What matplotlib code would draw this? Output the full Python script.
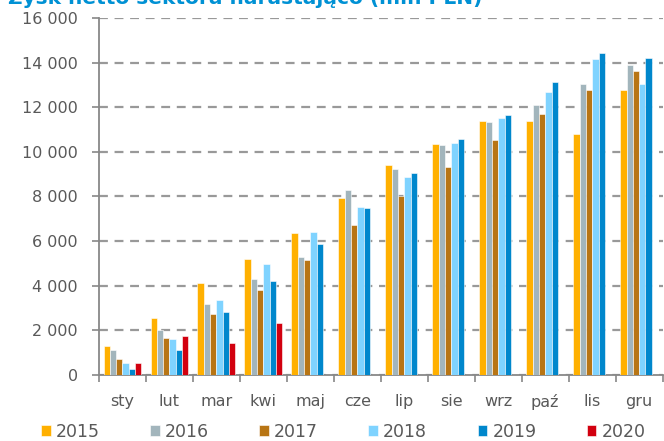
import numpy as np
import matplotlib
matplotlib.use("Agg")
import matplotlib.pyplot as plt
from matplotlib.ticker import FuncFormatter, MultipleLocator

plt.rcParams["font.family"] = "DejaVu Sans"

months = ["sty", "lut", "mar", "kwi", "maj", "cze", "lip", "sie", "wrz", "paź", "lis", "gru"]
years = ["2015", "2016", "2017", "2018", "2019", "2020"]

y2015 = [1300, 2550, 4130, 5190, 6360, 7920, 9390, 10360, 11370, 11390, 10800, 12780]
y2016 = [1130, 2010, 3170, 4280, 5280, 8270, 9240, 10310, 11350, 12110, 13050, 13880]
y2017 = [730, 1640, 2740, 3810, 5150, 6700, 8010, 9330, 10510, 11690, 12780, 13640]
y2018 = [540, 1620, 3340, 4960, 6420, 7540, 8880, 10380, 11530, 12700, 14180, 13050]
y2019 = [240, 1100, 2820, 4220, 5850, 7500, 9070, 10570, 11660, 13120, 14450, 14190]
y2020 = [540, 1760, 1440, 2340]

series = [y2015, y2016, y2017, y2018, y2019, y2020]
colors = ["#FFB000", "#A2B5BC", "#B87514", "#7FD3FF", "#0087CC", "#D2000F"]

fig = plt.figure(figsize=(6.64, 4.41), dpi=100)
ax = fig.add_axes([0.149, 0.150, 0.849, 0.809])

x = np.arange(len(months))
w = 0.134
for i, (vals, col, yr) in enumerate(zip(series, colors, years)):
    xs = x[:len(vals)] + (i - 2.5) * w
    ax.bar(xs, vals, width=w, color=col, edgecolor="white", linewidth=0.4,
           label=yr, zorder=3)

ax.set_xlim(-0.5, 11.5)
ax.set_ylim(0, 16000)
ax.yaxis.set_major_locator(MultipleLocator(2000))
ax.yaxis.set_major_formatter(FuncFormatter(lambda v, p: f"{int(v):,}".replace(",", " ")))
ax.grid(axis="y", color="#999999", linestyle=(0, (4, 3)), linewidth=1.6, zorder=0)

ax.set_xticks(x)
ax.set_xticklabels(months)
ax.set_xticks(np.arange(-0.5, 12, 1), minor=True)
ax.tick_params(axis="x", which="major", length=0, pad=14, labelsize=11.5, labelcolor="#595959")
ax.tick_params(axis="x", which="minor", length=5, width=1.2, color="#888888", direction="out")
ax.tick_params(axis="y", length=5, width=1.2, color="#888888", pad=10,
               labelsize=11.5, labelcolor="#595959")

for s in ["top", "right"]:
    ax.spines[s].set_visible(False)
for s in ["left", "bottom"]:
    ax.spines[s].set_color("#888888")
    ax.spines[s].set_linewidth(1.3)

leg = fig.legend(loc="lower center", bbox_to_anchor=(0.517, -0.035), ncol=6, frameon=False,
                 fontsize=12.5, handlelength=0.55, handleheight=0.55, handletextpad=0.3,
                 columnspacing=2.9)
for t in leg.get_texts():
    t.set_color("#595959")

fig.text(0.012, 1 - 4 / 441, "Zysk netto sektora narastająco (mln PLN)", color="#0091D4",
         fontsize=14.5, fontweight="bold", va="baseline", ha="left")

fig.savefig("out.png", dpi=100)
